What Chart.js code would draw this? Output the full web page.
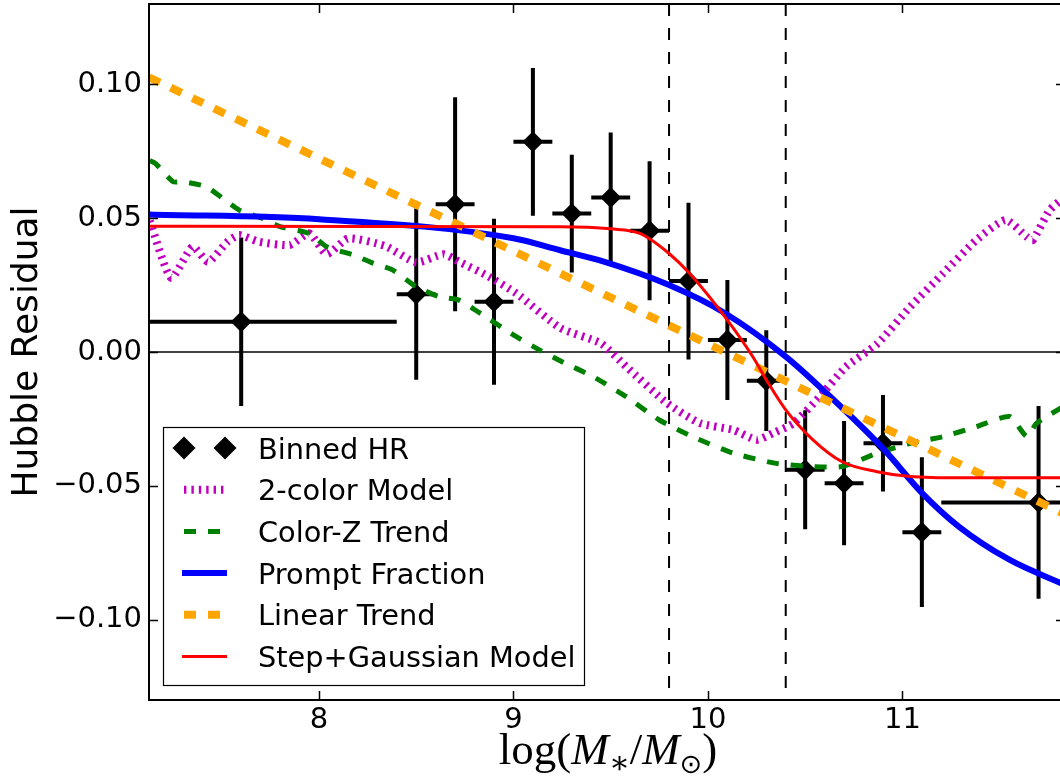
<!DOCTYPE html>
<html>
<head>
<meta charset="utf-8">
<script src="https://cdn.jsdelivr.net/npm/chart.js@4.4.1/dist/chart.umd.min.js"></script>
<style>
html, body { margin: 0; padding: 0; overflow: hidden; background: #fff; }
#c { display: block; }
</style>
</head>
<body>
<canvas id="c" width="1068" height="780"></canvas>
<script>
// ---------- data ----------
const xRange = [7.126, 11.836];
const yRange = [-0.13, 0.13];
const xTicks = [8, 9, 10, 11];
const yTicks = [-0.10, -0.05, 0.00, 0.05, 0.10];

const binX    = [7.6, 8.5, 8.7, 8.9, 9.1, 9.3, 9.5, 9.7, 9.9, 10.1, 10.3, 10.5, 10.7, 10.9, 11.1, 11.7];
const binY    = [0.0113, 0.0216, 0.0552, 0.0188, 0.0785, 0.0517, 0.0577, 0.0453, 0.0265, 0.0045, -0.0107, -0.0440, -0.0490, -0.0341, -0.0673, -0.0562];
const binYErr = [0.0315, 0.0320, 0.0400, 0.0310, 0.0276, 0.0220, 0.0243, 0.0260, 0.0293, 0.0224, 0.0188, 0.0222, 0.0232, 0.0180, 0.0280, 0.0360];
const binXErr = [0.8, 0.1, 0.1, 0.1, 0.1, 0.1, 0.1, 0.1, 0.1, 0.1, 0.1, 0.1, 0.1, 0.1, 0.1, 0.5];

const twoColorX = [7.13, 7.24, 7.35, 7.43, 7.53, 7.59, 7.69, 7.85, 7.95, 8.04, 8.15, 8.34, 8.50, 8.64, 8.72, 8.86, 9.015, 9.24, 9.45, 9.58, 9.79, 9.96, 10.13, 10.25, 10.335, 10.44, 10.575, 10.71, 10.87, 11.04, 11.21, 11.38, 11.53, 11.64, 11.67, 11.757, 11.836];
const twoColorY = [0.0490, 0.0277, 0.0393, 0.0337, 0.0412, 0.0437, 0.0412, 0.0400, 0.0443, 0.0366, 0.0424, 0.0396, 0.0335, 0.0365, 0.0337, 0.0287, 0.0219, 0.0090, 0.0032, -0.0055, -0.0191, -0.0266, -0.0291, -0.0328, -0.0303, -0.0266, -0.0167, -0.0055, 0.0030, 0.0169, 0.0294, 0.0418, 0.0493, 0.0430, 0.0418, 0.0530, 0.0580];

const colorZX = [7.13, 7.16, 7.25, 7.30, 7.42, 7.59, 7.71, 7.80, 7.95, 8.04, 8.18, 8.28, 8.38, 8.50, 8.62, 8.72, 8.83, 9.015, 9.135, 9.24, 9.41, 9.58, 9.75, 9.92, 10.13, 10.35, 10.54, 10.69, 10.87, 11.04, 11.21, 11.38, 11.55, 11.64, 11.69, 11.836];
const colorZY = [0.0715, 0.0704, 0.0636, 0.0636, 0.0617, 0.0530, 0.0499, 0.0468, 0.0443, 0.0393, 0.0362, 0.0331, 0.0306, 0.0244, 0.0206, 0.0194, 0.0144, 0.0057, 0.0007, -0.0033, -0.0092, -0.0167, -0.0254, -0.0316, -0.0378, -0.0416, -0.0428, -0.0428, -0.0378, -0.0341, -0.0316, -0.0279, -0.0241, -0.0316, -0.0266, -0.0200];

const promptX = [7.126, 8.0, 9.0, 9.24, 9.44, 9.8, 10.09, 10.4, 10.61, 10.9, 11.1, 11.29, 11.55, 11.836];
const promptY = [0.0514, 0.0496, 0.0425, 0.0380, 0.0343, 0.0250, 0.0144, -0.0017, -0.0154, -0.0360, -0.0526, -0.0652, -0.0776, -0.0870];

const linearX = [7.126, 8, 9, 10, 11, 11.836];
const linearY = [0.1026, 0.0723, 0.0377, 0.0030, -0.0316, -0.0606];

const stepX = [7.126, 9.24, 9.5, 9.65, 9.8, 9.905, 10.1, 10.23, 10.3, 10.4, 10.54, 10.69, 10.87, 11.04, 11.3, 11.836];
const stepY = [0.0470, 0.0468, 0.0460, 0.0443, 0.0368, 0.0294, 0.0119, -0.0017, -0.0104, -0.0216, -0.0328, -0.0410, -0.0447, -0.0465, -0.0470, -0.0470];

const markerLinesX = [9.8, 10.4];
const zeroLineY = 0;

const seriesLabels = ['Binned HR', '2-color Model', 'Color-Z Trend', 'Prompt Fraction', 'Linear Trend', 'Step+Gaussian Model'];

// ---------- helpers ----------
const pts = (xs, ys) => xs.map((x, i) => ({x: x, y: ys[i]}));
const SANS = "'DejaVu Sans', 'Liberation Sans', sans-serif";

const datasets = [
  { label: seriesLabels[5], data: pts(stepX, stepY), showLine: true, borderColor: '#ff0000', borderWidth: 3,
    pointRadius: 0, cubicInterpolationMode: 'monotone', order: 1, legendRank: 5 },
  { label: seriesLabels[4], data: pts(linearX, linearY), showLine: true, borderColor: '#ffa500', borderWidth: 8,
    borderDash: [12, 12], borderCapStyle: 'butt', pointRadius: 0, order: 2, legendRank: 4 },
  { label: seriesLabels[3], data: pts(promptX, promptY), showLine: true, borderColor: '#0000ff', borderWidth: 6,
    pointRadius: 0, cubicInterpolationMode: 'monotone', order: 3, legendRank: 3 },
  { label: seriesLabels[2], data: pts(colorZX, colorZY), showLine: true, borderColor: '#008000', borderWidth: 5,
    borderDash: [12, 12], pointRadius: 0, tension: 0.2, order: 4, legendRank: 2 },
  { label: seriesLabels[1], data: pts(twoColorX, twoColorY), showLine: true, borderColor: '#bf00bf', borderWidth: 8,
    borderDash: [2.4, 5], pointRadius: 0, tension: 0.2, order: 5, legendRank: 1 },
  { label: seriesLabels[0], data: pts(binX, binY), showLine: false, pointStyle: 'rectRot', pointRadius: 10.5,
    pointHoverRadius: 10.5, pointBackgroundColor: '#000', pointBorderColor: '#000', pointBorderWidth: 0, order: 6, legendRank: 0 },
  { label: 'zero', data: [{x: xRange[0], y: zeroLineY}, {x: xRange[1], y: zeroLineY}], showLine: true,
    borderColor: '#000', borderWidth: 1.5, pointRadius: 0, order: 7 },
  ...markerLinesX.map(v => ({ label: 'mark', data: [{x: v, y: yRange[1]}, {x: v, y: yRange[0]}], showLine: true,
    borderColor: '#000', borderWidth: 2, borderDash: [12, 12], pointRadius: 0, order: 8 }))
];

// ---------- plugins ----------
const errorBars = {
  id: 'errorBars',
  beforeDatasetsDraw(chart) {
    const {ctx, chartArea: a, scales: {x, y}} = chart;
    ctx.save();
    ctx.beginPath(); ctx.rect(a.left, a.top, a.right - a.left, a.bottom - a.top); ctx.clip();
    ctx.strokeStyle = '#000'; ctx.lineWidth = 4; ctx.lineCap = 'butt';
    binX.forEach((bx, i) => {
      const px = x.getPixelForValue(bx), py = y.getPixelForValue(binY[i]);
      ctx.beginPath();
      ctx.moveTo(px, y.getPixelForValue(binY[i] + binYErr[i]));
      ctx.lineTo(px, y.getPixelForValue(binY[i] - binYErr[i]));
      ctx.moveTo(x.getPixelForValue(bx - binXErr[i]), py);
      ctx.lineTo(x.getPixelForValue(bx + binXErr[i]), py);
      ctx.stroke();
    });
    ctx.restore();
  }
};

const frameAndDecor = {
  id: 'frameAndDecor',
  afterDraw(chart) {
    const {ctx, chartArea: a, scales: {x, y}} = chart;
    ctx.save();
    // inward tick marks on all four sides
    ctx.strokeStyle = '#000'; ctx.lineWidth = 1.5;
    const tl = 9;
    ctx.beginPath();
    xTicks.forEach(v => {
      const px = Math.round(x.getPixelForValue(v)) + 0.5;
      ctx.moveTo(px, a.bottom); ctx.lineTo(px, a.bottom - tl);
      ctx.moveTo(px, a.top); ctx.lineTo(px, a.top + tl);
    });
    yTicks.forEach(v => {
      const py = Math.round(y.getPixelForValue(v)) + 0.5;
      ctx.moveTo(a.left, py); ctx.lineTo(a.left + tl, py);
      ctx.moveTo(a.right, py); ctx.lineTo(a.right - tl, py);
    });
    ctx.stroke();
    // frame
    ctx.lineWidth = 2;
    ctx.strokeRect(a.left, a.top, a.right - a.left, a.bottom - a.top);

    // legend
    const items = chart.data.datasets.filter(d => d.legendRank !== undefined)
      .sort((p, q) => p.legendRank - q.legendRank);
    const bx = 163.5, by = 427.5, bw = 421, bh = 258;
    ctx.fillStyle = '#fff';
    ctx.fillRect(bx, by, bw, bh);
    ctx.lineWidth = 1.2; ctx.strokeStyle = '#000';
    ctx.strokeRect(bx, by, bw, bh);
    const row0 = 448, step = 41.7, s0 = 182, s1 = 227, tx = 258;
    ctx.font = '28.8px ' + SANS;
    ctx.textBaseline = 'alphabetic'; ctx.textAlign = 'left';
    items.forEach((d, i) => {
      const cy = row0 + i * step;
      if (!d.showLine) {
        ctx.fillStyle = '#000';
        [184, 225].forEach(cx => {
          const r = 11.5;
          ctx.beginPath();
          ctx.moveTo(cx, cy - r); ctx.lineTo(cx + r, cy); ctx.lineTo(cx, cy + r); ctx.lineTo(cx - r, cy);
          ctx.closePath(); ctx.fill();
        });
      } else {
        ctx.beginPath();
        ctx.strokeStyle = d.borderColor; ctx.lineWidth = d.borderWidth;
        ctx.setLineDash(d.borderDash || []);
        ctx.lineCap = 'butt';
        const start = d.borderDash ? 184 : s0;
        ctx.moveTo(start, cy); ctx.lineTo(s1, cy);
        ctx.stroke();
        ctx.setLineDash([]);
      }
      ctx.fillStyle = '#000';
      ctx.fillText(d.label, tx, cy + 10.5);
    });

    // x axis title: log(M_*/M_sun)
    const base = 45, baseY = 764;
    const serif = "'Liberation Serif', 'DejaVu Serif', serif";
    const parts = [
      {t: 'log(', f: base + 'px ' + serif, dy: 0},
      {t: 'M', f: 'italic ' + base + 'px ' + serif, dy: 0},
      {t: '\u2217', f: Math.round(base * 0.7) + 'px ' + serif, dy: 9},
      {t: '/', f: base + 'px ' + serif, dy: 0},
      {t: 'M', f: 'italic ' + base + 'px ' + serif, dy: 0},
      {t: '\u2299', f: Math.round(base * 0.6) + 'px ' + SANS, dy: 9},
      {t: ')', f: base + 'px ' + serif, dy: 0}
    ];
    let total = 0;
    parts.forEach(p => { ctx.font = p.f; p.w = ctx.measureText(p.t).width; total += p.w; });
    let cx = 608 - total / 2;
    ctx.fillStyle = '#000';
    parts.forEach(p => { ctx.font = p.f; ctx.fillText(p.t, cx, baseY + p.dy); cx += p.w; });
    ctx.restore();
  }
};

new Chart(document.getElementById('c'), {
  type: 'scatter',
  data: { datasets: datasets },
  options: {
    responsive: false, maintainAspectRatio: false, animation: false, devicePixelRatio: 1,
    layout: { autoPadding: false, padding: { top: 4, right: 3, bottom: 0, left: 0 } },
    plugins: { legend: { display: false }, tooltip: { enabled: false } },
    scales: {
      x: {
        type: 'linear', min: xRange[0], max: xRange[1],
        afterBuildTicks: s => { s.ticks = xTicks.map(v => ({value: v})); },
        afterFit: s => { s.height = 80; s.paddingLeft = 0; s.paddingRight = 0; },
        grid: { display: false, drawTicks: false }, border: { display: false },
        ticks: { color: '#000', font: { family: SANS, size: 29 }, padding: 3, maxRotation: 0, autoSkip: false,
                 callback: v => String(v) }
      },
      y: {
        type: 'linear', min: yRange[0], max: yRange[1],
        afterBuildTicks: s => { s.ticks = yTicks.map(v => ({value: v})); },
        afterFit: s => { s.width = 149; s.paddingTop = 0; s.paddingBottom = 0; },
        grid: { display: false, drawTicks: false }, border: { display: false },
        ticks: { color: '#000', font: { family: SANS, size: 29 }, padding: 7, autoSkip: false,
                 callback: v => (v < -1e-9 ? '\u2212' : '') + Math.abs(v).toFixed(2) },
        title: { display: true, text: 'Hubble Residual', color: '#000', font: { family: SANS, size: 36 },
                 padding: { top: 6, bottom: 0 } }
      }
    }
  },
  plugins: [errorBars, frameAndDecor]
});
</script>
</body>
</html>
